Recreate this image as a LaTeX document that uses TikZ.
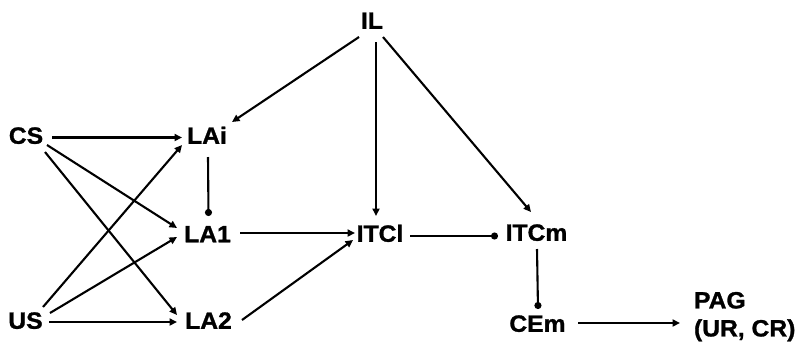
\documentclass[tikz,border=0pt]{standalone}
\usepackage{fontspec}
\setmainfont{Liberation Sans}[FakeStretch=1.05,BoldFeatures={FakeBold=1.2}]
\usetikzlibrary{arrows.meta}
\begin{document}
\begin{tikzpicture}[x=1pt,y=-1pt,
  lbl/.style={inner sep=0pt,outer sep=0pt,text height=16.5pt,text depth=0pt,
    font=\fontsize{23.5}{28}\selectfont\bfseries},
  arr/.style={line width=2.1pt,-{Triangle[length=7.5pt,width=7pt]}},
  dotarr/.style={line width=2.1pt,-{Circle[length=7pt]}}]
\useasboundingbox (0,0) rectangle (799,346);
\node[lbl] (IL)   at (372,20.5)  {IL};
\node[lbl] (CS)   at (26,135.5)  {CS};
\node[lbl] (LAi)  at (207,135.5) {LAi};
\node[lbl] (LA1)  at (207.5,234) {LA1};
\node[lbl] (US)   at (25.5,320.5){US};
\node[lbl] (LA2)  at (208.5,320.5){LA2};
\node[lbl] (ITCl) at (380,233.5) {ITCl};
\node[lbl] (ITCm) at (536.5,232.5){ITCm};
\node[lbl] (CEm)  at (537.5,323.5){CEm};
\node[inner sep=0pt,outer sep=0pt,anchor=north west,align=left,
  font=\fontsize{23.5}{28}\selectfont\bfseries] (PAG) at (694,292) {PAG\\(UR, CR)};

\draw[arr] ([shift={(-13,16.5)}]IL.center) -- ([shift={(25,-13.5)}]LAi.center);
\draw[arr] ([shift={(4,21.5)}]IL.center) -- ([shift={(-4,-17.5)}]ITCl.center);
\draw[arr] ([shift={(11,16.5)}]IL.center) -- ([shift={(-5.5,-20.5)}]ITCm.center);

\draw[arr] ([shift={(26,2)}]CS.center) -- ([shift={(-25,2)}]LAi.center);
\draw[arr] ([shift={(21,9.5)}]CS.center) -- ([shift={(-30.5,-6)}]LA1.center);
\draw[arr] ([shift={(19,16.5)}]CS.center) -- ([shift={(-31.5,-5.5)}]LA2.center);

\draw[arr] ([shift={(17.5,-13.5)}]US.center) -- ([shift={(-25,9.5)}]LAi.center);
\draw[arr] ([shift={(24.5,-7.5)}]US.center) -- ([shift={(-30.5,3)}]LA1.center);
\draw[arr] ([shift={(23.5,1.5)}]US.center) -- ([shift={(-31.5,1.5)}]LA2.center);

\draw[dotarr] ([shift={(1,21.5)}]LAi.center) -- ([shift={(1,-18)}]LA1.center);
\draw[arr] ([shift={(32.5,-1)}]LA1.center) -- ([shift={(-25,-0.5)}]ITCl.center);
\draw[arr] ([shift={(33.5,-0.5)}]LA2.center) -- ([shift={(-27,6.5)}]ITCl.center);
\draw[dotarr] ([shift={(30,2.5)}]ITCl.center) -- ([shift={(-38.5,3.5)}]ITCm.center);
\draw[dotarr] ([shift={(0.5,16.5)}]ITCm.center) -- ([shift={(0.5,-14.5)}]CEm.center);
\draw[arr] ([shift={(40.5,-0.5)}]CEm.center) -- ([shift={(-14,31)}]PAG.north west);
\end{tikzpicture}
\end{document}
